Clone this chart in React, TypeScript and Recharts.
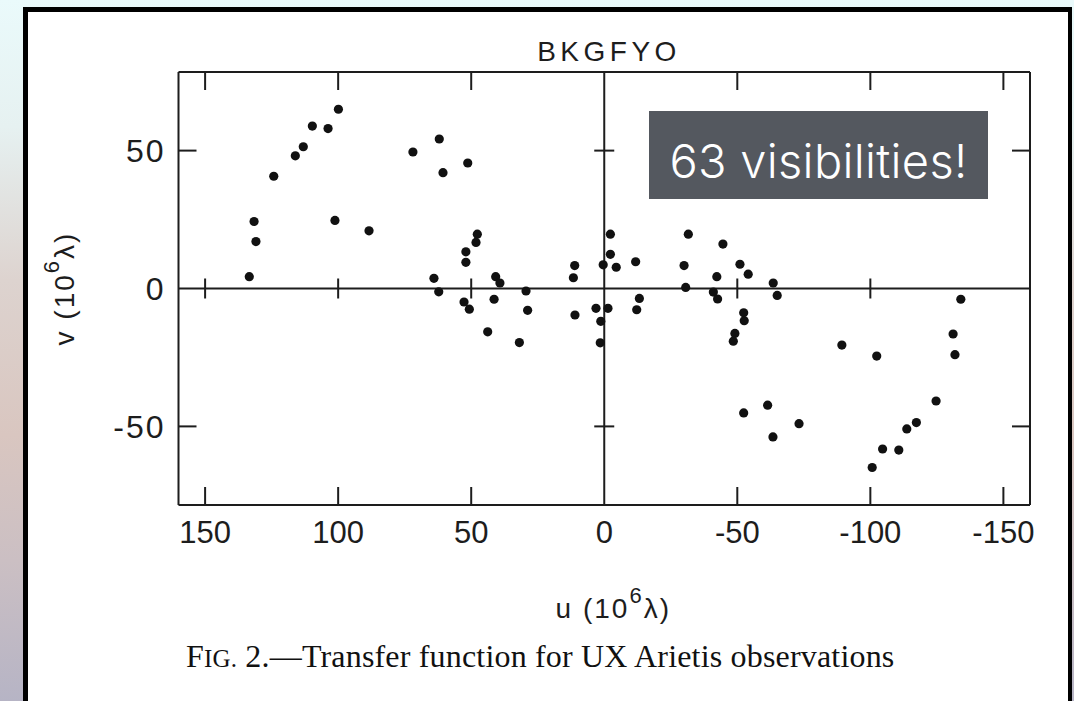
import React from "react";
import {
  ScatterChart,
  Scatter,
  XAxis,
  YAxis,
  ReferenceLine,
  ReferenceDot,
} from "recharts";

// u, v coordinates (10^6 lambda)
const uValues = [
  99.9, 109.7, 103.8, 113.1, 116.1, 124.2, 131.6, 130.9, 133.4, 101.2, 88.4, 71.9, 62.0, 60.6, 51.3,
  64.0, 62.2, 52.0, 52.0, 52.7, 50.7, 47.7, 48.2, 40.8, 39.2, 41.4, 43.8, 29.4, 28.8, 31.9, 11.1, 11.6, 11.0,
  -2.3, -2.3, 0.4, -4.5, -11.8, 3.1, 1.3, 1.5, -1.4, -13.2, -12.2,
  -31.6, -30.0, -30.6, -44.6, -42.3, -41.0, -42.6, -51.0, -54.1, -63.5, -65.0, -52.4, -52.6, -49.1, -48.5,
  -89.3, -102.4, -134.0, -131.1, -131.8, -124.7, -117.3, -113.7, -110.7, -104.6, -100.7, -52.4, -61.4, -63.4, -73.2,
];
const vValues = [
  65.0, 58.9, 58.0, 51.4, 48.1, 40.7, 24.3, 17.0, 4.3, 24.7, 20.9, 49.5, 54.2, 42.0, 45.5,
  3.7, -1.2, 13.3, 9.5, -4.9, -7.5, 19.7, 16.7, 4.3, 2.0, -3.9, -15.7, -0.9, -7.9, -19.6, 8.3, 3.9, -9.6,
  19.7, 12.4, 8.6, 7.7, 9.7, -7.2, -11.9, -19.7, -7.2, -3.6, -7.7,
  19.7, 8.3, 0.4, 16.1, 4.3, -1.3, -3.8, 8.8, 5.2, 2.0, -2.5, -8.8, -11.7, -16.3, -19.1,
  -20.5, -24.5, -3.9, -16.5, -24.0, -40.8, -48.6, -50.9, -58.6, -58.2, -64.9, -45.1, -42.3, -53.8, -49.0,
];

const xTicks = [150, 100, 50, 0, -50, -100, -150];
const yTicks = [50, 0, -50];
const xFrameTicks = [150, 100, 50, -50, -100, -150];
const yFrameTicks = [50, -50];
const xCrossTicks = [150, 100, 50, -50, -100];
const yCrossTicks = [50, -50];

const TITLE = "BKGFYO";
const NOTE = "63 visibilities!";

const points = uValues.map((u, i) => ({ u, v: vValues[i] }));

const INK = "#1d1d1d";
const SANS = "'Liberation Sans', Arial, sans-serif";
const SERIF = "'Liberation Serif', 'Times New Roman', serif";
const X_DOMAIN: [number, number] = [-160, 160];
const Y_DOMAIN: [number, number] = [-78.5, 78.5];
const U_LEFT = X_DOMAIN[1]; // axis is reversed: +160 sits on the left
const U_RIGHT = X_DOMAIN[0];
const V_TOP = Y_DOMAIN[1];
const V_BOTTOM = Y_DOMAIN[0];
const TICK = 18;
const line = { stroke: INK, strokeWidth: 2 };

function Dot(p: any) {
  return <circle cx={p.cx} cy={p.cy} r={4.6} fill="#111" />;
}

const VCross = (p: any) => <line x1={p.cx} x2={p.cx} y1={p.cy - 10} y2={p.cy + 10} {...line} />;
const HCross = (p: any) => <line x1={p.cx - 10} x2={p.cx + 10} y1={p.cy} y2={p.cy} {...line} />;
const DownTick = (p: any) => <line x1={p.cx} x2={p.cx} y1={p.cy} y2={p.cy + TICK} {...line} />;
const UpTick = (p: any) => <line x1={p.cx} x2={p.cx} y1={p.cy} y2={p.cy - TICK} {...line} />;
const RightTick = (p: any) => <line x1={p.cx} x2={p.cx + TICK} y1={p.cy} y2={p.cy} {...line} />;
const LeftTick = (p: any) => <line x1={p.cx} x2={p.cx - TICK} y1={p.cy} y2={p.cy} {...line} />;

function ULabel(props: any) {
  const vb = props.viewBox || { x: 0, y: 0, width: 0, height: 0 };
  const cx = vb.x + vb.width / 2 + 9;
  return (
    <text x={cx} y={vb.y + 113} textAnchor="middle" fill={INK} fontFamily={SANS} fontSize={28} letterSpacing={2}>
      u (10
      <tspan dy={-15} fontSize={22}>6</tspan>
      <tspan dy={15}>λ)</tspan>
    </text>
  );
}

function VLabel(props: any) {
  const vb = props.viewBox || { x: 0, y: 0, width: 0, height: 0 };
  const x = vb.x - 45;
  const y = vb.y + vb.height / 2;
  return (
    <text
      x={x}
      y={y}
      textAnchor="middle"
      transform={`rotate(-90, ${x}, ${y})`}
      fill={INK}
      fontFamily={SANS}
      fontSize={28}
      letterSpacing={2}
    >
      v (10
      <tspan dy={-15} fontSize={22}>6</tspan>
      <tspan dy={15}>λ)</tspan>
    </text>
  );
}

export default function App() {
  return (
    <div
      style={{
        position: "absolute",
        left: 0,
        top: 0,
        width: 1074,
        height: 701,
        overflow: "hidden",
        background:
          "linear-gradient(180deg, #eafafb 0%, #e6f1f1 18%, #ddd3cf 40%, #d9c6c0 62%, #cbbfc3 80%, #b6b4c5 100%)",
      }}
    >
      <div
        style={{
          position: "absolute",
          left: 23,
          top: 7,
          width: 1049,
          height: 760,
          boxSizing: "border-box",
          background: "#fff",
          borderLeft: "5px solid #000",
          borderTop: "5px solid #000",
          borderRight: "4px solid #000",
        }}
      />
      <div style={{ position: "absolute", left: 0, top: 0 }}>
        <ScatterChart width={1074} height={701} margin={{ top: 72, right: 44, bottom: 156, left: 118.5 }}>
          <XAxis
            type="number"
            dataKey="u"
            domain={X_DOMAIN}
            reversed
            ticks={xTicks}
            interval={0}
            allowDataOverflow
            height={40}
            tickLine={false}
            tickSize={0}
            tickMargin={16}
            axisLine={line}
            tick={{ fill: INK, fontSize: 31, fontFamily: SANS }}
            label={<ULabel />}
          />
          <YAxis
            type="number"
            dataKey="v"
            domain={Y_DOMAIN}
            ticks={yTicks}
            interval={0}
            allowDataOverflow
            width={60}
            tickLine={false}
            tickSize={0}
            tickMargin={13}
            axisLine={line}
            tick={{ fill: INK, fontSize: 32, fontFamily: SANS, letterSpacing: 2 }}
            label={<VLabel />}
          />
          {/* frame: top and right edges */}
          <ReferenceLine y={V_TOP} {...line} />
          <ReferenceLine x={U_RIGHT} {...line} />
          {/* zero axes */}
          <ReferenceLine x={0} {...line} />
          <ReferenceLine y={0} {...line} />
          {xFrameTicks.map((t) => (
            <ReferenceDot key={`t${t}`} x={t} y={V_TOP} shape={DownTick} />
          ))}
          {xFrameTicks.map((t) => (
            <ReferenceDot key={`b${t}`} x={t} y={V_BOTTOM} shape={UpTick} />
          ))}
          {yFrameTicks.map((t) => (
            <ReferenceDot key={`l${t}`} x={U_LEFT} y={t} shape={RightTick} />
          ))}
          {yFrameTicks.map((t) => (
            <ReferenceDot key={`r${t}`} x={U_RIGHT} y={t} shape={LeftTick} />
          ))}
          {xCrossTicks.map((t) => (
            <ReferenceDot key={`xc${t}`} x={t} y={0} shape={VCross} />
          ))}
          {yCrossTicks.map((t) => (
            <ReferenceDot key={`yc${t}`} x={0} y={t} shape={HCross} />
          ))}
          <Scatter data={points} isAnimationActive={false} shape={Dot} />
        </ScatterChart>
      </div>
      <svg width={1074} height={701} style={{ position: "absolute", left: 0, top: 0, pointerEvents: "none" }}>
        <text x={609} y={61} textAnchor="middle" fill={INK} fontFamily={SANS} fontSize={28} letterSpacing={4.5}>
          {TITLE}
        </text>
        <text x={186} y={667} fill="#111" fontFamily={SERIF} fontSize={32} letterSpacing={0.18}>
          F<tspan fontSize={25}>IG.</tspan> 2.—Transfer function for UX Arietis observations
        </text>
      </svg>
      <div
        style={{
          position: "absolute",
          left: 649,
          top: 111,
          width: 339,
          height: 88,
          background: "#54585f",
          color: "#fff",
          fontFamily: "Inter, 'Open Sans', sans-serif",
          fontWeight: 300,
          fontSize: 47,
          letterSpacing: 0.3,
          fontVariantLigatures: "none",
          lineHeight: "88px",
          textAlign: "center",
          paddingTop: 6,
          boxSizing: "border-box",
          whiteSpace: "nowrap",
        }}
      >
        {NOTE}
      </div>
    </div>
  );
}
